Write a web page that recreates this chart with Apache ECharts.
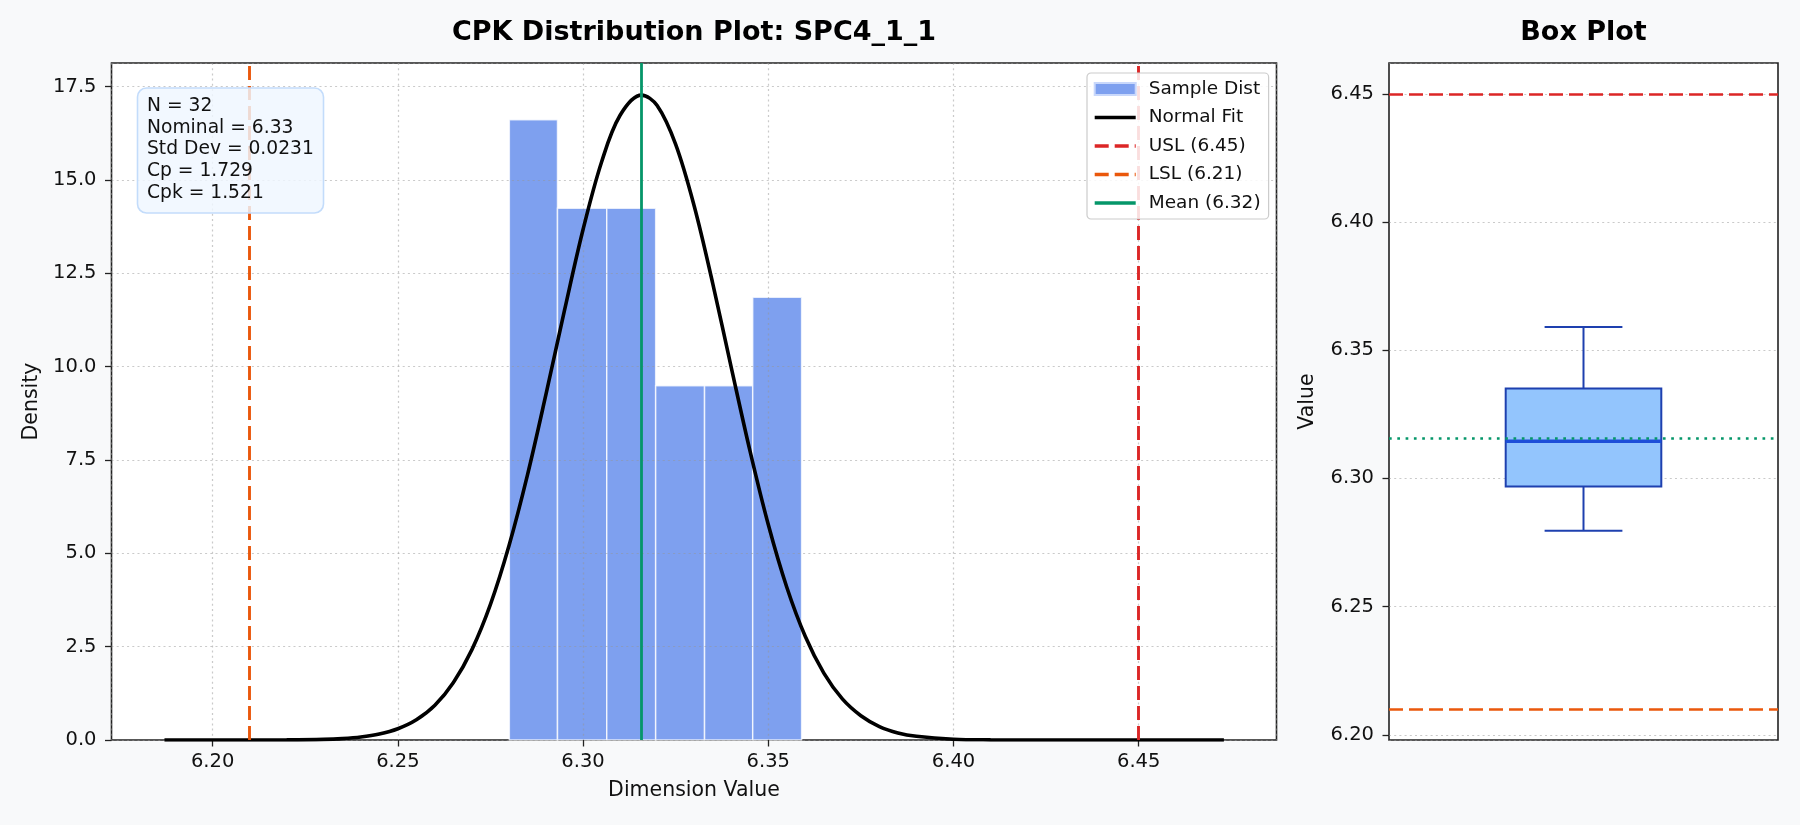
<!DOCTYPE html>
<html>
<head>
<meta charset="utf-8">
<title>CPK Distribution Plot: SPC4_1_1</title>
<script src="https://cdn.jsdelivr.net/npm/echarts@6/dist/echarts.min.js"></script>
<style>
  html, body { margin: 0; padding: 0; background: #f8f9fa; }
  #main { width: 1800px; height: 825px; }
</style>
</head>
<body>
<div id="main"></div>
<script>
// histogram bins (density)
var binEdges = [6.2801, 6.2931, 6.3064, 6.3196, 6.3328, 6.3458, 6.3590];
var binDensity = [16.61, 14.24, 14.24, 9.49, 9.49, 11.86];

// normal fit curve
var fitX = [6.187, 6.20, 6.21, 6.22, 6.23, 6.235, 6.24, 6.245, 6.25, 6.255, 6.26, 6.265, 6.27, 6.275,
            6.28, 6.285, 6.29, 6.295, 6.30, 6.305, 6.31, 6.3158, 6.32, 6.325, 6.33, 6.335, 6.34, 6.345,
            6.35, 6.355, 6.36, 6.365, 6.37, 6.375, 6.38, 6.385, 6.39, 6.40, 6.41, 6.42, 6.44, 6.473];
var fitY = [0, 0, 0, 0.003, 0.017, 0.038, 0.079, 0.158, 0.30, 0.54, 0.93, 1.54, 2.42, 3.63,
            5.20, 7.10, 9.26, 11.51, 13.67, 15.48, 16.73, 17.27, 16.99, 15.95, 14.30, 12.23, 9.98, 7.77,
            5.77, 4.09, 2.77, 1.79, 1.10, 0.65, 0.36, 0.19, 0.10, 0.022, 0.004, 0.001, 0, 0];

// spec limits / mean
var usl = 6.45;
var lsl = 6.21;
var meanVal = 6.3158;

// box plot: min, q1, median, q3, max
var boxStats = [6.2796, 6.2969, 6.3145, 6.3351, 6.3591];

// summary numbers
var nCount = 32, nominal = 6.33, stdDev = 0.0231, cp = 1.729, cpk = 1.521;

// axis ranges
var xRange = [6.1727, 6.4872];
var densityMax = 18.13;
var boxRange = [6.198, 6.462];

var FONT = 'DejaVu Sans';
var histColor = '#7ea0ef';
var splitStyle = { color: 'rgba(150,150,150,0.5)', type: [2, 3.2], width: 1.2 };
var tickStyle = { show: true, length: 6.5, lineStyle: { color: '#222', width: 1.3 } };

var uslName = 'USL (' + usl.toFixed(2) + ')';
var lslName = 'LSL (' + lsl.toFixed(2) + ')';
var meanName = 'Mean (' + meanVal.toFixed(2) + ')';

var histData = binDensity.map(function (d, i) { return [binEdges[i], binEdges[i + 1], d]; });
var fitData = fitX.map(function (x, i) { return [x, fitY[i]]; });

var statText = [
  'N = ' + nCount,
  'Nominal = ' + nominal.toFixed(2),
  'Std Dev = ' + stdDev.toFixed(4),
  'Cp = ' + cp.toFixed(3),
  'Cpk = ' + cpk.toFixed(3)
].join('\n');

function renderHist(params, api) {
  var p0 = api.coord([api.value(0), api.value(2)]);
  var p1 = api.coord([api.value(1), 0]);
  return {
    type: 'rect',
    shape: { x: p0[0], y: p0[1], width: p1[0] - p0[0], height: p1[1] - p0[1] },
    style: { fill: histColor, stroke: 'rgba(255,255,255,0.75)', lineWidth: 1.5 }
  };
}

function renderBox(params, api) {
  var x = api.value(0);
  var lo = api.coord([x, api.value(1)]);
  var q1 = api.coord([x - 0.2, api.value(2)]);
  var med = api.coord([x, api.value(3)]);
  var q3 = api.coord([x + 0.2, api.value(4)]);
  var hi = api.coord([x, api.value(5)]);
  var capL = api.coord([x - 0.1, 0])[0];
  var capR = api.coord([x + 0.1, 0])[0];
  var edge = { stroke: '#1e40af', lineWidth: 2 };
  return {
    type: 'group',
    children: [
      { type: 'line', shape: { x1: hi[0], y1: q3[1], x2: hi[0], y2: hi[1] }, style: edge },
      { type: 'line', shape: { x1: lo[0], y1: q1[1], x2: lo[0], y2: lo[1] }, style: edge },
      { type: 'line', shape: { x1: capL, y1: hi[1], x2: capR, y2: hi[1] }, style: edge },
      { type: 'line', shape: { x1: capL, y1: lo[1], x2: capR, y2: lo[1] }, style: edge },
      { type: 'rect', shape: { x: q1[0], y: q3[1], width: q3[0] - q1[0], height: q1[1] - q3[1] },
        style: { fill: '#93c5fd', stroke: '#1e40af', lineWidth: 2 } },
      { type: 'line', shape: { x1: q1[0], y1: med[1], x2: q3[0], y2: med[1] },
        style: { stroke: '#1d4ed8', lineWidth: 3.4 } }
    ]
  };
}

function vline(name, value, color, type, width, z) {
  return {
    name: name, type: 'line', xAxisIndex: 0, yAxisIndex: 0, data: [], z: z,
    symbol: 'circle', itemStyle: { color: color, opacity: 0 },
    lineStyle: { color: color, type: type, width: width },
    markLine: {
      silent: true, symbol: ['none', 'none'], label: { show: false }, animation: false, precision: 6,
      lineStyle: { color: color, type: type, width: width, opacity: 1 },
      data: [{ xAxis: value }]
    }
  };
}

var myChart = echarts.init(document.getElementById('main'));
var option = {
  backgroundColor: '#f8f9fa',
  animation: false,
  textStyle: { fontFamily: FONT },
  title: [
    { text: 'CPK Distribution Plot: SPC4_1_1', left: 694, top: 19, textAlign: 'center', padding: 0,
      textStyle: { fontFamily: FONT, fontSize: 27, fontWeight: 'bold', color: '#000' } },
    { text: 'Box Plot', left: 1583.5, top: 19, textAlign: 'center', padding: 0,
      textStyle: { fontFamily: FONT, fontSize: 27, fontWeight: 'bold', color: '#000' } }
  ],
  grid: [
    { left: 111.5, top: 63, width: 1165, height: 677, show: true, backgroundColor: '#fff',
      borderColor: '#222', borderWidth: 1.6, outerBoundsMode: 'none' },
    { left: 1389, top: 63, width: 389, height: 677, show: true, backgroundColor: '#fff',
      borderColor: '#222', borderWidth: 1.6, outerBoundsMode: 'none' }
  ],
  legend: {
    left: 1087, top: 73, orient: 'vertical',
    itemWidth: 41, itemHeight: 12, itemGap: 8.5,
    padding: [6, 8, 6, 6],
    backgroundColor: 'rgba(255,255,255,0.85)', borderColor: '#cccccc', borderWidth: 1.2, borderRadius: 4,
    lineStyle: { width: 3.4 },
    textStyle: { fontFamily: FONT, fontSize: 18.5, color: '#111', lineHeight: 20, padding: [0, 0, 0, 8] },
    data: [{ name: 'Sample Dist', icon: 'rect' }, 'Normal Fit', uslName, lslName, meanName],
    z: 20
  },
  xAxis: [
    { type: 'value', gridIndex: 0, min: xRange[0], max: xRange[1], splitNumber: 5, z: 2,
      name: 'Dimension Value', nameLocation: 'middle', nameGap: 40,
      nameTextStyle: { fontFamily: FONT, fontSize: 20.5, color: '#111' },
      axisLine: { show: false }, axisTick: tickStyle,
      axisLabel: { fontFamily: FONT, fontSize: 19.5, color: '#111', margin: 12,
        showMinLabel: false, showMaxLabel: false,
        formatter: function (v) { return v.toFixed(2); } },
      splitLine: { show: true, lineStyle: splitStyle } },
    { type: 'value', gridIndex: 1, min: 0.5, max: 1.5, show: false }
  ],
  yAxis: [
    { type: 'value', gridIndex: 0, min: 0, max: densityMax, interval: 2.5, z: 2,
      name: 'Density', nameLocation: 'middle', nameGap: 68,
      nameTextStyle: { fontFamily: FONT, fontSize: 20.5, color: '#111' },
      axisLine: { show: false }, axisTick: tickStyle,
      axisLabel: { fontFamily: FONT, fontSize: 19.5, color: '#111', margin: 15,
        showMinLabel: true, showMaxLabel: false,
        formatter: function (v) { return v.toFixed(1); } },
      splitLine: { show: true, lineStyle: splitStyle } },
    { type: 'value', gridIndex: 1, min: boxRange[0], max: boxRange[1], splitNumber: 5,
      name: 'Value', nameLocation: 'middle', nameGap: 71,
      nameTextStyle: { fontFamily: FONT, fontSize: 20.5, color: '#111' },
      axisLine: { show: false }, axisTick: tickStyle,
      axisLabel: { fontFamily: FONT, fontSize: 19.5, color: '#111', margin: 15,
        showMinLabel: false, showMaxLabel: false,
        formatter: function (v) { return v.toFixed(2); } },
      splitLine: { show: true, lineStyle: splitStyle } }
  ],
  series: [
    { name: 'Sample Dist', type: 'custom', xAxisIndex: 0, yAxisIndex: 0, z: 1,
      itemStyle: { color: histColor, borderColor: '#c9d8fb', borderWidth: 1 },
      encode: { x: [0, 1], y: 2 }, renderItem: renderHist, data: histData },
    { name: 'Normal Fit', type: 'line', xAxisIndex: 0, yAxisIndex: 0, z: 3,
      symbol: 'circle', showSymbol: false, smooth: 0.35,
      itemStyle: { color: '#000', opacity: 0 }, lineStyle: { color: '#000', width: 3.6 },
      data: fitData },
    vline(uslName, usl, '#dc2626', [14, 6], 2.9, 4),
    vline(lslName, lsl, '#ea580c', [14, 6], 2.9, 4),
    vline(meanName, meanVal, '#059669', 'solid', 2.8, 5),
    { name: 'box', type: 'custom', xAxisIndex: 1, yAxisIndex: 1, z: 2,
      encode: { x: 0, y: [1, 2, 3, 4, 5] }, renderItem: renderBox,
      data: [[1].concat(boxStats)] },
    { name: 'boxLimits', type: 'line', xAxisIndex: 1, yAxisIndex: 1, data: [], z: 5,
      markLine: {
        silent: true, symbol: ['none', 'none'], label: { show: false }, animation: false, precision: 6,
        data: [
          { yAxis: usl, lineStyle: { color: '#dc2626', type: [14, 6], width: 2.7 } },
          { yAxis: lsl, lineStyle: { color: '#ea580c', type: [14, 6], width: 2.7 } },
          { yAxis: meanVal, lineStyle: { color: '#059669', type: [2.7, 5.6], width: 2.7 } }
        ]
      } }
  ],
  graphic: [
    { type: 'rect', z: 10, shape: { x: 137.5, y: 88, width: 186, height: 125, r: 9 },
      style: { fill: 'rgba(239,246,255,0.82)', stroke: '#c3dcfb', lineWidth: 1.6 } },
    { type: 'text', z: 11, x: 147, y: 95,
      style: { text: statText, fontFamily: FONT, fontSize: 18.7, lineHeight: 21.8,
        fill: '#111', verticalAlign: 'top' } }
  ]
};
myChart.setOption(option);
</script>
</body>
</html>
